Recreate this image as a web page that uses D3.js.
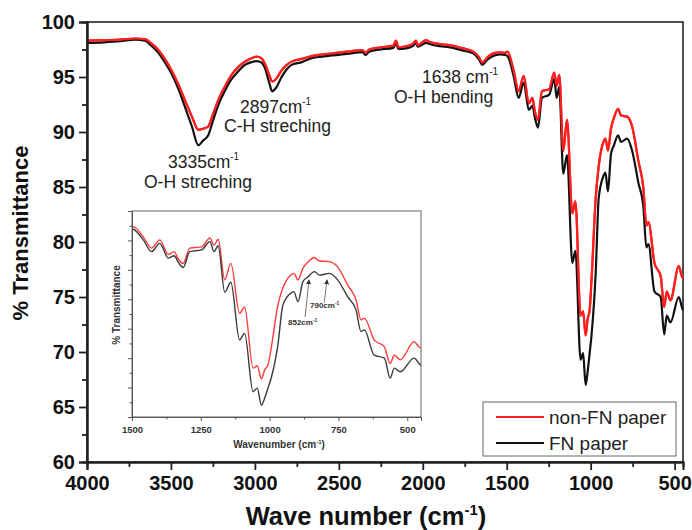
<!DOCTYPE html>
<html>
<head>
<meta charset="utf-8">
<script src="https://cdn.jsdelivr.net/npm/d3@7"></script>
<style>
  html, body { margin: 0; padding: 0; background: #fff; }
  svg { display: block; font-family: "Liberation Sans", Arial, sans-serif; }
</style>
</head>
<body>
<svg id="chart" width="692" height="530"></svg>
<script>
// ---------- DATA ----------
const wavenumbers = [4000,3900,3800,3714,3655,3620,3575,3535,3496,3455,3417,3375,3337,3310,3278,3250,3218,3180,3139,3100,3060,3020,2990,2960,2940,2915,2897,2875,2841,2810,2782,2720,2663,2600,2534,2450,2360,2340,2320,2250,2175,2160,2145,2100,2060,2040,2030,1980,1960,1900,1839,1760,1700,1665,1645,1620,1581,1540,1510,1495,1459,1429,1399,1368,1347,1332,1314,1290,1247,1217,1202,1187,1163,1141,1109,1091,1060,1045,1030,1018,1006,995,970,952,924,912,897,879,861,837,819,783,753,716,686,668,656,620,583,562,547,525,475,457,450];
const nonFNPaper = [98.3,98.35,98.4,98.5,98.45,98.1,97.45,96.6,95.6,94.3,92.9,91.4,90.2,90.3,90.5,91.6,92.9,94.1,95.2,95.9,96.4,96.7,96.85,96.7,96.2,95.2,94.6,94.8,95.6,96.1,96.4,96.65,96.9,97.05,97.15,97.3,97.45,97.2,97.5,97.7,97.85,98.3,97.7,97.8,98.0,98.3,97.9,98.35,98.2,98.0,97.9,97.6,97.3,96.8,96.3,96.7,97.15,97.25,97.2,97.3,95.6,93.7,95.1,92.6,93.1,91.85,91.1,93.7,93.9,95.4,94.2,95.2,88.3,91.1,82.6,83.7,73.3,73.7,71.5,73.0,73.8,76.5,84.0,86.9,89.1,89.4,88.3,90.3,91.3,92.1,91.5,91.4,90.5,87.4,84.9,81.5,81.8,78.1,76.9,74.1,75.5,74.7,77.8,76.9,76.7];
const fnPaper = [98.1,98.15,98.25,98.4,98.3,97.9,97.2,96.3,95.3,93.9,92.3,90.5,88.8,89.2,89.7,91.0,92.45,93.7,94.8,95.5,96.1,96.35,96.45,96.3,95.8,94.5,93.7,94.0,95.0,95.7,96.1,96.35,96.7,96.85,96.97,97.1,97.27,97.0,97.3,97.5,97.65,98.1,97.55,97.6,97.8,98.1,97.75,98.1,98.0,97.8,97.7,97.4,97.15,96.6,96.1,96.5,96.9,97.05,97.0,96.9,95.1,93.1,94.5,92.0,92.4,91.3,90.4,93.1,93.4,94.8,93.1,94.1,86.2,87.9,78.1,79.2,69.3,69.9,67.0,68.2,69.9,71.5,77.2,84.0,86.0,86.3,84.6,88.0,88.8,89.7,89.1,89.4,88.3,85.4,83.2,79.5,79.8,75.5,75.0,71.6,73.3,72.7,75.0,74.1,73.8];
const seriesNames = ["non-FN paper", "FN paper"];
const seriesColors = ["#ff1f1f", "#111111"];
const insetColors = ["#ff3a3a", "#3a3a3a"];

const mainXTicks = [4000,3500,3000,2500,2000,1500,1000,500];
const mainXMinor = [3750,3250,2750,2250,1750,1250,750];
const mainYTicks = [60,65,70,75,80,85,90,95,100];
const mainYMinor = [62.5,67.5,72.5,77.5,82.5,87.5,92.5,97.5];
const insetXTicks = [1500,1250,1000,750,500];
const insetXMinor = [1375,1125,875,625];
const insetYTicks = [65,70,75,80,85,90,95,100];
const insetYMinor = [67.5,72.5,77.5,82.5,87.5,92.5,97.5];

// peak annotations (main)
const peakLabels = [
  {num: "3335cm", sup: "-1", desc: "O-H streching", x: 168, y: 168, dx: 144, dy: 188},
  {num: "2897cm", sup: "-1", desc: "C-H streching", x: 240, y: 113, dx: 224, dy: 132},
  {num: "1638 cm", sup: "-1", desc: "O-H bending", x: 422, y: 83, dx: 394, dy: 103}
];
// inset arrows: tip (wavenumber, transmittance)
const insetArrows = [
  {label: "852cm", wn: 857, t: 88.3, tailWn: 871, tailT: 82.0, tx: 288, ty: 325},
  {label: "790cm", wn: 791, t: 88.3, tailWn: 802, tailT: 84.4, tx: 310, ty: 308}
];

// ---------- DRAW ----------
const svg = d3.select("#chart");
const data = wavenumbers.map((w, i) => ({w, a: nonFNPaper[i], b: fnPaper[i]}));

const x = d3.scaleLinear().domain([4000, 450]).range([87, 683]);
const y = d3.scaleLinear().domain([60, 100]).range([462, 22]);

const g = svg.append("g");

g.append("rect").attr("x", 87).attr("y", 22).attr("width", 683 - 87).attr("height", 462 - 22)
  .attr("fill", "none").attr("stroke", "#222").attr("stroke-width", 1.6);

const keys = ["a", "b"];
keys.forEach((k, i) => {
  const line = d3.line().x(d => x(d.w)).y(d => y(d[k])).curve(d3.curveMonotoneX);
  g.append("path").datum(data).attr("d", line)
    .attr("fill", "none").attr("stroke", seriesColors[i]).attr("stroke-width", 2.2)
    .attr("stroke-linejoin", "round");
});
{
  const line = d3.line().x(d => x(d.w)).y(d => y(d.a)).curve(d3.curveMonotoneX);
  g.append("path").datum(data).attr("d", line)
    .attr("fill", "none").attr("stroke", seriesColors[0]).attr("stroke-width", 2.2);
}

const xAxis = g.append("g").attr("transform", "translate(0,462)")
  .call(d3.axisBottom(x).tickValues(mainXTicks).tickSize(8).tickPadding(6).tickFormat(d3.format("d")));
g.append("g").attr("transform", "translate(0,462)")
  .call(d3.axisBottom(x).tickValues(mainXMinor).tickSize(5).tickFormat(""));
const yAxis = g.append("g").attr("transform", "translate(87,0)")
  .call(d3.axisLeft(y).tickValues(mainYTicks).tickSize(8).tickPadding(4).tickFormat(d3.format("d")));
g.append("g").attr("transform", "translate(87,0)")
  .call(d3.axisLeft(y).tickValues(mainYMinor).tickSize(5).tickFormat(""));
g.selectAll(".domain").attr("stroke", "#222").attr("stroke-width", 2);
g.selectAll(".tick line").attr("stroke", "#222").attr("stroke-width", 1.8);
[xAxis, yAxis].forEach(a => a.selectAll(".tick text")
  .attr("font-size", 20).attr("font-weight", "bold").attr("fill", "#111")
  .attr("font-family", "Liberation Sans, Arial, sans-serif"));

const xt = svg.append("text").attr("x", 366).attr("y", 525).attr("text-anchor", "middle")
  .attr("font-size", 25.5).attr("font-weight", "bold").attr("fill", "#111");
xt.append("tspan").text("Wave number (cm");
xt.append("tspan").attr("dy", -10).attr("font-size", 15).text("-1");
xt.append("tspan").attr("dy", 10).text(")");

svg.append("text").attr("transform", "translate(28,233) rotate(-90)").attr("text-anchor", "middle")
  .attr("font-size", 22).attr("font-weight", "bold").attr("fill", "#111").text("% Transmittance");

peakLabels.forEach(p => {
  const t = svg.append("text").attr("x", p.x).attr("y", p.y).attr("font-size", 17.5).attr("fill", "#222");
  t.append("tspan").text(p.num);
  t.append("tspan").attr("dy", -8).attr("font-size", 10).text(p.sup);
  svg.append("text").attr("x", p.dx).attr("y", p.dy).attr("font-size", 17.5).attr("fill", "#222").text(p.desc);
});

// ---------- INSET ----------
const ix = d3.scaleLinear().domain([1500, 450]).range([132, 421]);
const iy = d3.scaleLinear().domain([65, 100]).range([417, 211]);
const ig = svg.append("g");
ig.append("rect").attr("x", 132).attr("y", 211).attr("width", 421 - 132).attr("height", 417 - 211)
  .attr("fill", "#fff").attr("stroke", "#666").attr("stroke-width", 1);
svg.append("clipPath").attr("id", "iclip").append("rect")
  .attr("x", 132).attr("y", 211).attr("width", 421 - 132).attr("height", 417 - 211);
const insetData = data.filter(d => d.w <= 1520);
keys.forEach((k, i) => {
  const line = d3.line().x(d => ix(d.w)).y(d => iy(d[k])).curve(d3.curveMonotoneX);
  ig.append("path").datum(insetData).attr("d", line).attr("clip-path", "url(#iclip)")
    .attr("fill", "none").attr("stroke", insetColors[i]).attr("stroke-width", 1.4);
});
const ixa = ig.append("g").attr("transform", "translate(0,417)")
  .call(d3.axisBottom(ix).tickValues(insetXTicks).tickSize(4).tickPadding(5).tickFormat(d3.format("d")));
ig.append("g").attr("transform", "translate(0,417)")
  .call(d3.axisBottom(ix).tickValues(insetXMinor).tickSize(2.5).tickFormat(""));
ig.append("g").attr("transform", "translate(132,0)")
  .call(d3.axisLeft(iy).tickValues(insetYTicks).tickSize(4).tickFormat(""));
ig.append("g").attr("transform", "translate(132,0)")
  .call(d3.axisLeft(iy).tickValues(insetYMinor).tickSize(2.5).tickFormat(""));
ig.selectAll(".domain").attr("stroke", "#555").attr("stroke-width", 1);
ig.selectAll(".tick line").attr("stroke", "#555").attr("stroke-width", 1);
ixa.selectAll(".tick text").attr("font-size", 9.5).attr("font-weight", "bold").attr("fill", "#333")
  .attr("font-family", "Liberation Sans, Arial, sans-serif");

const ixt = ig.append("text").attr("x", 279).attr("y", 448).attr("text-anchor", "middle")
  .attr("font-size", 10).attr("font-weight", "bold").attr("fill", "#333");
ixt.append("tspan").text("Wavenumber (cm");
ixt.append("tspan").attr("dy", -4).attr("font-size", 6).text("-1");
ixt.append("tspan").attr("dy", 4).text(")");
ig.append("text").attr("transform", "translate(120,305) rotate(-90)").attr("text-anchor", "middle")
  .attr("font-size", 10).attr("font-weight", "bold").attr("fill", "#333").text("% Transmittance");

const defs = svg.append("defs");
defs.append("marker").attr("id", "arr").attr("viewBox", "0 0 10 10").attr("refX", 9).attr("refY", 5)
  .attr("markerWidth", 5).attr("markerHeight", 5).attr("orient", "auto")
  .append("path").attr("d", "M0,0 L10,5 L0,10 z").attr("fill", "#333");
insetArrows.forEach(a => {
  ig.append("line").attr("x1", ix(a.tailWn)).attr("y1", iy(a.tailT)).attr("x2", ix(a.wn)).attr("y2", iy(a.t))
    .attr("stroke", "#777").attr("stroke-width", 1).attr("marker-end", "url(#arr)");
  const t = ig.append("text").attr("x", a.tx).attr("y", a.ty).attr("font-size", 8).attr("font-weight", "bold").attr("fill", "#333");
  t.append("tspan").text(a.label);
  t.append("tspan").attr("dy", -3).attr("font-size", 5).text("-1");
});

// ---------- LEGEND ----------
const lg = svg.append("g");
lg.append("rect").attr("x", 483).attr("y", 402).attr("width", 193).attr("height", 54)
  .attr("fill", "#fff").attr("stroke", "#666").attr("stroke-width", 1);
seriesNames.forEach((n, i) => {
  const yy = 417 + i * 26;
  lg.append("line").attr("x1", 496).attr("x2", 544).attr("y1", yy).attr("y2", yy)
    .attr("stroke", seriesColors[i]).attr("stroke-width", 2);
  lg.append("text").attr("x", 549).attr("y", yy + 7).attr("font-size", 19).attr("fill", "#222").text(n);
});
</script>
</body>
</html>
